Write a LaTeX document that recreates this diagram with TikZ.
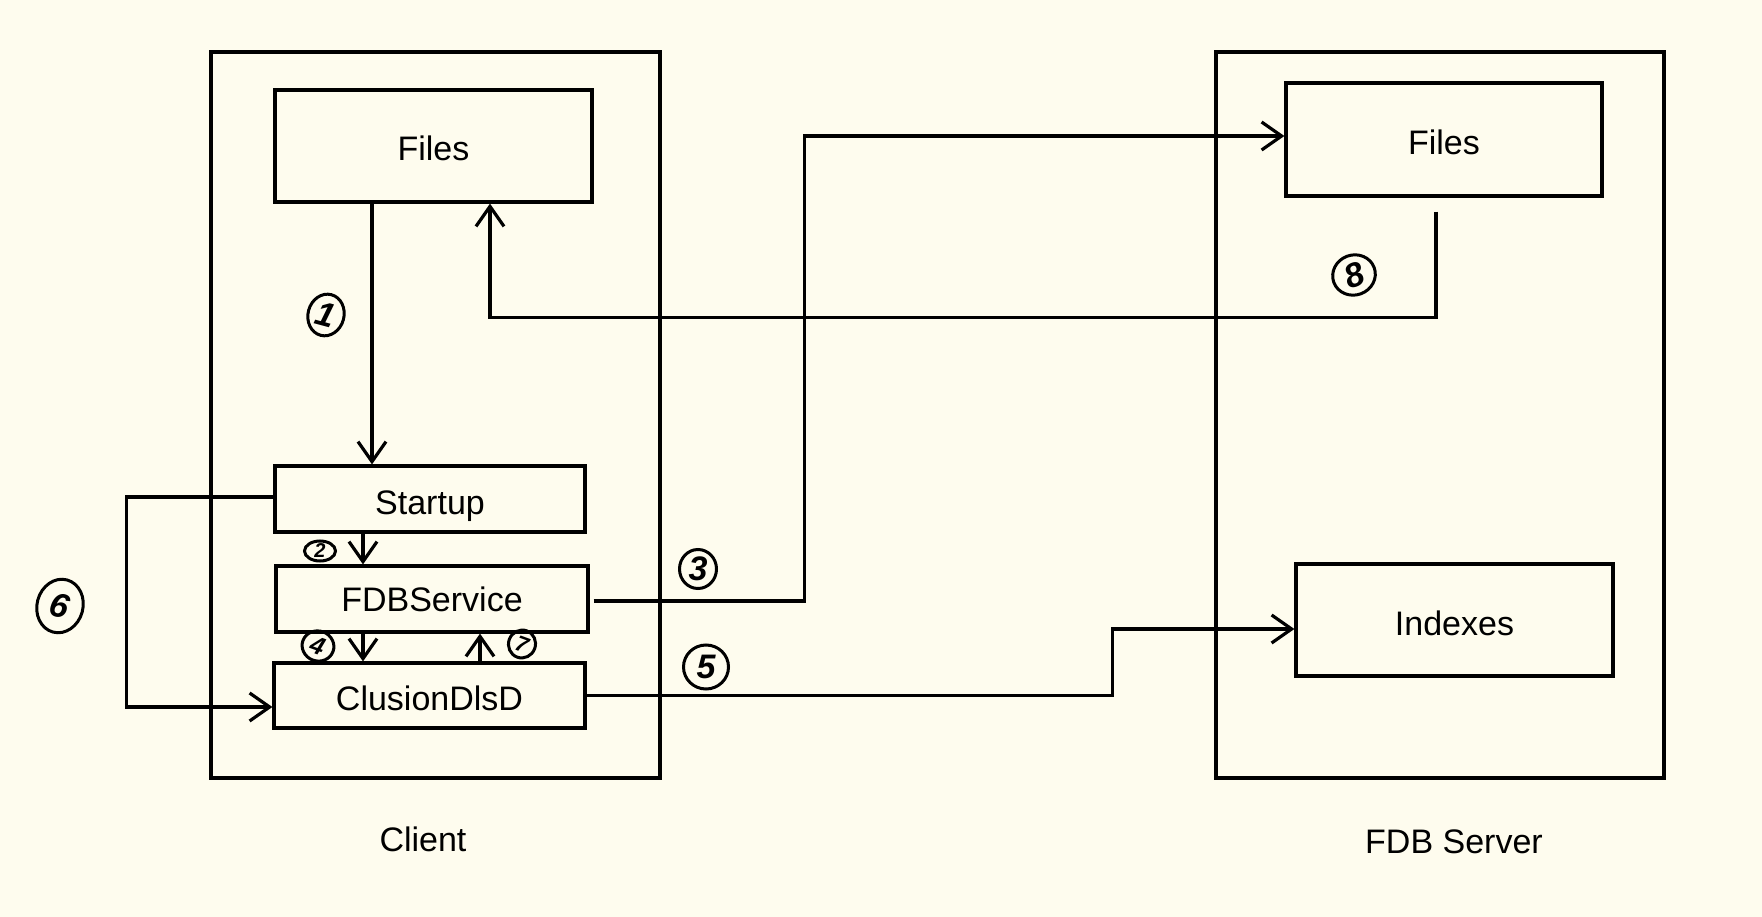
\documentclass[tikz,border=0pt]{standalone}
\usepackage{fontspec}
\setmainfont{Liberation Sans}
\usetikzlibrary{arrows.meta,shapes.geometric}
\definecolor{paper}{HTML}{FEFCEE}
\tikzset{
  box/.style={draw, line width=3.2pt, rectangle, inner sep=0pt, text height=34pt, text depth=4pt,
    font=\fontsize{34}{40}\selectfont},
  frame/.style={draw, line width=3.2pt, rectangle, inner sep=0pt},
  arr/.style={line width=3.2pt, -{Straight Barb[length=20pt, width=28pt, line width=3.2pt]}},
  num/.style={draw, ellipse, line width=3pt, inner sep=0pt, font=\fontsize{34}{36}\selectfont\bfseries\itshape},
  caption/.style={font=\fontsize{34}{40}\selectfont}
}
\begin{document}
\begin{tikzpicture}[x=1pt, y=-1pt]
  \fill[paper] (0,0) rectangle (1762,917);
  \useasboundingbox (0,0) rectangle (1762,917);

  % client side
  \node[frame, minimum width=449pt, minimum height=726pt] (client) at (435.5,415) {};
  \node[box, minimum width=317pt, minimum height=112pt] (cfiles) at (433.5,146) {Files};
  \node[box, minimum width=310pt, minimum height=66pt] (startup) at (430,499) {Startup};
  \node[box, minimum width=312pt, minimum height=66pt, text height=29pt] (fdb) at (432,599) {FDBService};
  \node[box, minimum width=311pt, minimum height=65pt] (clusion) at (429.5,695.5) {ClusionDlsD};
  \node[caption] (clientlbl) at (423,839) {Client};

  % server side
  \node[frame, minimum width=448pt, minimum height=726pt] (server) at (1440,415) {};
  \node[box, minimum width=316pt, minimum height=113pt] (sfiles) at (1444,139.5) {Files};
  \node[box, minimum width=317pt, minimum height=112pt] (indexes) at (1454.5,620) {Indexes};
  \node[caption] (serverlbl) at (1454,842) {FDB Server};

  % connectors
  \draw[arr] ([shift={(-61.5,0)}]cfiles.south) -- ([shift={(-61.5,0)}]cfiles.south |- startup.north);
  \draw[arr] ([shift={(-67,0)}]startup.south) -- ([shift={(-67,0)}]startup.south |- fdb.north);
  \draw[arr] ([shift={(-69,0)}]fdb.south) -- ([shift={(-69,0)}]fdb.south |- clusion.north);
  \draw[arr] ([shift={(50.5,0)}]clusion.north) -- ([shift={(50.5,0)}]clusion.north |- fdb.south);
  \draw[arr] ([shift={(4,2)}]fdb.east) -- ++(211,0) |- ([shift={(0,-3.5)}]sfiles.west);
  \draw[arr] (clusion.east) -- ++(526,0) |- ([shift={(0,9)}]indexes.west);
  \draw[arr] ([shift={(0,-2)}]startup.west) -- ++(-147,0) |- ([shift={(0,11.5)}]clusion.west);
  \draw[arr] ([shift={(-8,14)}]sfiles.south) -- ++(0,106) -| ([shift={(56.5,0)}]cfiles.south);

  % step numbers
  \node[num, minimum width=36pt, minimum height=42pt, rotate=-15] (n1) at (326,315) {1};
  \node[num, minimum width=31pt, minimum height=20pt] (n2) at (320,551) {\fontsize{20}{22}\selectfont 2};
  \node[num, minimum width=37pt, minimum height=39pt] (n3) at (698,569) {3};
  \node[num, minimum width=32pt, minimum height=30pt, rotate=-20] (n4) at (318,646) {\fontsize{25}{27}\selectfont 4};
  \node[num, minimum width=27pt, minimum height=28pt, rotate=-20] (n7) at (522,644) {\fontsize{22}{24}\selectfont 7};
  \node[num, minimum width=45pt, minimum height=44pt] (n5) at (706,667) {5};
  \node[num, minimum width=46pt, minimum height=54pt, rotate=-15] (n6) at (60,606) {6};
  \node[num, minimum width=43pt, minimum height=40pt, rotate=20] (n8) at (1354,275) {8};
\end{tikzpicture}
\end{document}
